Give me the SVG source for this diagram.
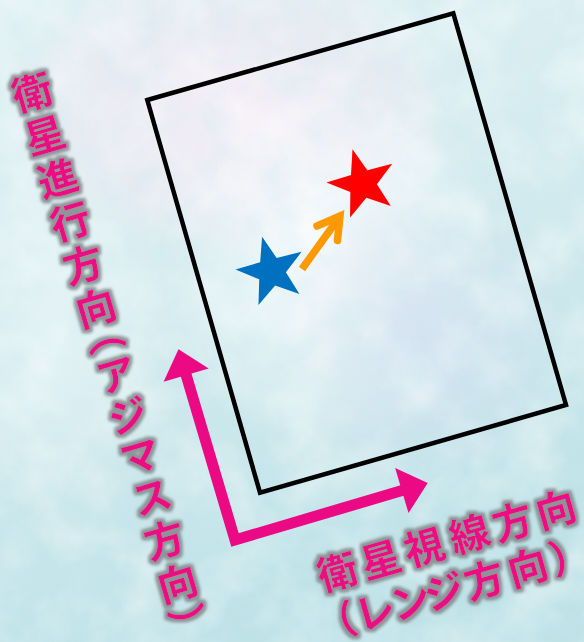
<svg xmlns="http://www.w3.org/2000/svg" width="584" height="642" viewBox="0 0 584 642">
<defs>
<linearGradient id="bgG" x1="0" y1="0" x2="0.3" y2="1">
<stop offset="0" stop-color="#e2f1f4"/>
<stop offset="0.5" stop-color="#d3ebef"/>
<stop offset="1" stop-color="#bfe2e7"/>
</linearGradient>
<radialGradient id="pinkG" cx="0.5" cy="0.5" r="0.5">
<stop offset="0" stop-color="#f7eef6" stop-opacity="0.95"/>
<stop offset="0.6" stop-color="#f1e8f3" stop-opacity="0.6"/>
<stop offset="1" stop-color="#f1e8f3" stop-opacity="0"/>
</radialGradient>
<radialGradient id="whiteG" cx="0.5" cy="0.5" r="0.5">
<stop offset="0" stop-color="#ffffff" stop-opacity="0.85"/>
<stop offset="1" stop-color="#ffffff" stop-opacity="0"/>
</radialGradient>
<radialGradient id="lavG" cx="0.5" cy="0.5" r="0.5">
<stop offset="0" stop-color="#d4e0f0" stop-opacity="0.8"/>
<stop offset="1" stop-color="#d4e0f0" stop-opacity="0"/>
</radialGradient>
<filter id="tex" x="0" y="0" width="100%" height="100%">
<feTurbulence type="fractalNoise" baseFrequency="0.018" numOctaves="4" seed="7"/>
<feColorMatrix type="matrix" values="0 0 0 0 1  0 0 0 0 1  0 0 0 0 1  1.6 0 0 0 -0.62"/>
</filter>
<filter id="tex2" x="0" y="0" width="100%" height="100%">
<feTurbulence type="fractalNoise" baseFrequency="0.03" numOctaves="3" seed="11"/>
<feColorMatrix type="matrix" values="0 0 0 0 0.62  0 0 0 0 0.82  0 0 0 0 0.88  0 1.4 0 0 -0.6"/>
</filter>
<filter id="halo" x="-20%" y="-20%" width="140%" height="140%">
<feMorphology in="SourceAlpha" operator="dilate" radius="2.5" result="d"/>
<feGaussianBlur in="d" stdDeviation="1.5" result="b"/>
<feFlood flood-color="#7f8789" flood-opacity="0.85"/>
<feComposite in2="b" operator="in" result="g"/>
<feMerge><feMergeNode in="g"/><feMergeNode in="SourceGraphic"/></feMerge>
</filter>
<polygon id="star" points="0,-36 8.5,-11.7 34.2,-11.1 13.8,4.5 21.2,29.1 0,14.5 -21.2,29.1 -13.8,4.5 -34.2,-11.1 -8.5,-11.7"/>
</defs>
<style>
.lbl{font-family:"Noto Sans CJK JP","Noto Sans CJK SC",sans-serif;font-size:40px;font-weight:700;fill:#eb0a84}
.vert{writing-mode:vertical-rl;text-orientation:mixed;font-feature-settings:"vpal" 1;letter-spacing:5px}
.frame{fill:none;stroke:#000;stroke-width:4.5;stroke-linejoin:miter}
.mag{fill:#eb0a84}
.magline{fill:none;stroke:#eb0a84;stroke-width:11;stroke-linejoin:miter}
.orange{fill:none;stroke:#ff9900;stroke-width:7.5}
</style>

<g id="background">
<rect width="584" height="642" fill="url(#bgG)"/>
<ellipse cx="230" cy="110" rx="230" ry="150" fill="url(#pinkG)"/>
<ellipse cx="330" cy="260" rx="170" ry="200" fill="url(#whiteG)"/>
<ellipse cx="420" cy="330" rx="150" ry="160" fill="url(#lavG)"/>
<ellipse cx="60" cy="330" rx="120" ry="200" fill="url(#whiteG)" opacity="0.5"/>
<rect width="584" height="642" filter="url(#tex)" opacity="0.55"/>
<rect width="584" height="642" filter="url(#tex2)" opacity="0.5"/>
</g>

<g id="frame">
<polygon class="frame" points="147.3,100 453.3,13.3 566,405 260,492.7"/>
</g>

<g id="blue-star">
<use href="#star" transform="translate(271.4,271.4) rotate(-15)" fill="#0070c0"/>
</g>
<g id="red-star">
<use href="#star" transform="translate(362.4,183.8) rotate(-16)" fill="#ff0000"/>
</g>

<g id="connectors">
<g id="motion-arrow">
<path class="orange" d="M302,269 L338,219" stroke-linecap="butt"/>
<path class="orange" d="M317,226 L340,216 L337.5,240.5" stroke-linecap="round" stroke-linejoin="miter"/>
</g>
<g id="axes-arrow" transform="translate(235,540) rotate(-16.5)">
<path class="magline" d="M0,-174 L0,0 L176,0"/>
<polygon class="mag" points="0,-199 -23.5,-172 23.5,-172"/>
<polygon class="mag" points="201,0 174,-23.5 174,23.5"/>
</g>
</g>

<g id="label-azimuth" filter="url(#halo)">
<g transform="translate(32,92) rotate(-16.5)">
<text class="lbl vert" x="0" y="-20">衛星進行方向（アジマス方向）</text>
</g>
</g>

<g id="label-range" filter="url(#halo)">
<g transform="translate(337,570) rotate(-16)">
<text class="lbl" dominant-baseline="central" x="-20 25 70 117 162 207" y="0">衛星視線方向</text>
<text class="lbl" dominant-baseline="central" x="-35 5 42 77 119 164 207.5" y="48">（レンジ方向）</text>
</g>
</g>
</svg>
